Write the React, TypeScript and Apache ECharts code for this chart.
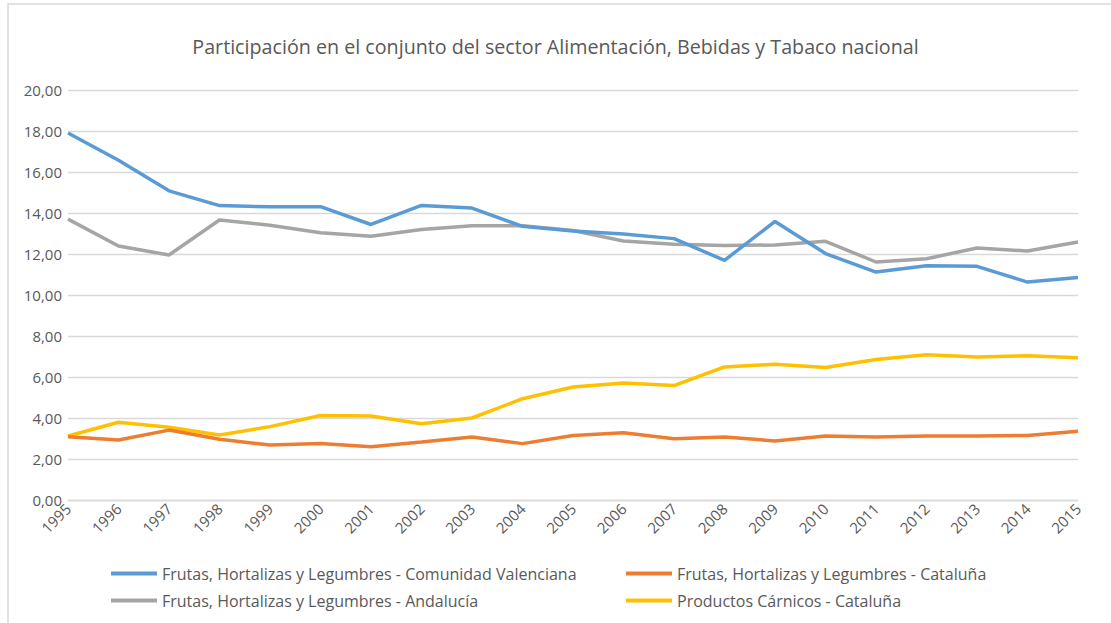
import React, { useEffect, useRef } from "react";
import * as echarts from "echarts";

const years = ["1995","1996","1997","1998","1999","2000","2001","2002","2003","2004","2005","2006","2007","2008","2009","2010","2011","2012","2013","2014","2015"];

const valenciana = [17.9, 16.57, 15.08, 14.36, 14.3, 14.31, 13.44, 14.37, 14.24, 13.35, 13.12, 12.97, 12.75, 11.69, 13.59, 12.02, 11.12, 11.43, 11.4, 10.63, 10.85];
const cataluna = [3.09, 2.93, 3.41, 2.96, 2.68, 2.76, 2.6, 2.83, 3.07, 2.75, 3.15, 3.28, 2.99, 3.07, 2.88, 3.12, 3.07, 3.12, 3.12, 3.15, 3.35];
const andalucia = [13.7, 12.39, 11.95, 13.66, 13.4, 13.04, 12.87, 13.19, 13.38, 13.38, 13.15, 12.63, 12.47, 12.41, 12.44, 12.62, 11.61, 11.77, 12.29, 12.15, 12.59];
const carnicos = [3.12, 3.79, 3.55, 3.17, 3.58, 4.12, 4.1, 3.72, 4.0, 4.94, 5.51, 5.71, 5.58, 6.49, 6.62, 6.46, 6.85, 7.09, 6.98, 7.04, 6.94];

const seriesNames = [
  "Frutas, Hortalizas y Legumbres - Comunidad Valenciana",
  "Frutas, Hortalizas y Legumbres - Cataluña",
  "Frutas, Hortalizas y Legumbres - Andalucía",
  "Productos Cárnicos - Cataluña",
];
const seriesColors = ["#5B9BD5", "#ED7D31", "#A5A5A5", "#FFC000"];
const seriesData = [valenciana, cataluna, andalucia, carnicos];

const titleText = "Participación en el conjunto del sector Alimentación, Bebidas y Tabaco nacional";

export default function App() {
  const ref = useRef<HTMLDivElement>(null);
  useEffect(() => {
    if (!ref.current) return;
    const chart = echarts.init(ref.current, null, { renderer: "svg" });
    const font = "'Open Sans', 'Noto Sans', sans-serif";
    const legendCommon = {
      orient: "vertical",
      icon: "rect",
      itemWidth: 46,
      itemHeight: 4,
      itemGap: 8,
      padding: 0,
      top: 564,
      textStyle: { fontSize: 16, color: "#595959", fontFamily: font, lineHeight: 19 },
    };
    chart.setOption({
      animation: false,
      backgroundColor: "#ffffff",
      title: {
        text: titleText,
        left: "center",
        top: 31,
        textStyle: { fontSize: 19.7, fontWeight: "normal", color: "#595959", fontFamily: font },
      },
      graphic: [
        {
          type: "rect",
          shape: { x: 8, y: 4, width: 1200, height: 700 },
          style: { fill: "none", stroke: "#d9d9d9", lineWidth: 1.5 },
          silent: true,
        },
      ],
      legend: [
        { ...legendCommon, left: 111, data: [seriesNames[0], seriesNames[2]] },
        { ...legendCommon, left: 626, data: [seriesNames[1], seriesNames[3]] },
      ],
      grid: { left: 68, right: 33, top: 90, bottom: 123 },
      xAxis: {
        type: "category",
        data: years,
        boundaryGap: false,
        axisLine: { lineStyle: { color: "#d9d9d9", width: 1.3 } },
        axisTick: { show: false },
        axisLabel: {
          rotate: 45,
          interval: 0,
          margin: 6,
          fontSize: 15,
          color: "#595959",
          fontFamily: font,
        },
      },
      yAxis: {
        type: "value",
        min: 0,
        max: 20,
        interval: 2,
        axisLine: { show: false },
        axisTick: { show: false },
        splitLine: { lineStyle: { color: "#d9d9d9", width: 1.3 } },
        axisLabel: {
          margin: 6,
          fontSize: 15,
          color: "#595959",
          fontFamily: font,
          formatter: (v: number) => v.toFixed(2).replace(".", ","),
        },
      },
      series: seriesNames.map((name, i) => ({
        name,
        type: "line",
        data: seriesData[i],
        symbol: "none",
        showSymbol: false,
        lineStyle: { color: seriesColors[i], width: 3.5 },
        itemStyle: { color: seriesColors[i] },
        z: 10 - i,
      })),
    });
    return () => chart.dispose();
  }, []);
  return <div ref={ref} style={{ position: "fixed", left: 0, top: 0, width: 1111, height: 623 }} />;
}
